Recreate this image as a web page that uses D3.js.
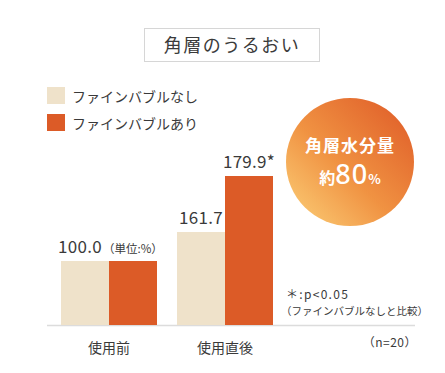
<!DOCTYPE html>
<html>
<head>
<meta charset="utf-8">
<script src="https://cdn.jsdelivr.net/npm/d3@7"></script>
<style>
  body { margin: 0; background: #fff; }
  text { font-family: "Noto Sans CJK JP", "Noto Sans", sans-serif; fill: #3a3a3a; }
</style>
</head>
<body>
<svg id="svg" width="445" height="373"></svg>
<script>
const categories = ["使用前", "使用直後"];
const seriesNames = ["ファインバブルなし", "ファインバブルあり"];
const without = [100.0, 161.7];
const withBubble = [100.0, 179.9];
const valueLabels = ["100.0", "161.7", "179.9*"];
const colors = ["#EFE2CA", "#DC5B27"];

const svg = d3.select("#svg");
const baseY = 325;

// the picture's bars are not to scale, so the scale follows the drawn heights
const y = d3.scaleLinear().domain([0, 100, 161.7, 179.9]).range([baseY, 261, 232, 176]);
const x = d3.scaleBand().domain(categories).range([61, 273]).paddingInner(20 / 116);
const xs = d3.scaleBand().domain(seriesNames).range([0, x.bandwidth()]);

// title box
svg.append("rect")
  .attr("x", 144.5).attr("y", 28.5).attr("width", 175).attr("height", 33)
  .attr("fill", "none").attr("stroke", "#d6d6d6");
svg.append("text")
  .attr("x", 232).attr("y", 51.5)
  .attr("text-anchor", "middle")
  .style("font-size", "18px").style("letter-spacing", "1.5px")
  .text("角層のうるおい");

// legend
const legend = svg.selectAll("g.legend").data(seriesNames).enter()
  .append("g").attr("class", "legend")
  .attr("transform", (d, i) => `translate(47,${87 + i * 27})`);
legend.append("rect").attr("width", 18).attr("height", 17).attr("fill", (d, i) => colors[i]);
legend.append("text").attr("x", 25).attr("y", 15)
  .style("font-size", "14px").text((d) => d);

// baseline
svg.append("line")
  .attr("x1", 47).attr("x2", 415).attr("y1", baseY + 0.5).attr("y2", baseY + 0.5)
  .attr("stroke", "#dcdcdc").attr("stroke-width", 1.5);

// bars
const groups = svg.selectAll("g.grp").data(categories).enter()
  .append("g").attr("class", "grp")
  .attr("transform", (d) => `translate(${x(d)},0)`);
groups.selectAll("rect")
  .data((d, i) => [without[i], withBubble[i]])
  .enter().append("rect")
  .attr("x", (d, j) => xs(seriesNames[j]))
  .attr("width", xs.bandwidth())
  .attr("y", (d) => y(d))
  .attr("height", (d) => baseY - y(d))
  .attr("fill", (d, j) => colors[j]);

// value labels
const labelPos = [
  { c: 0, s: 0, v: without[0] },
  { c: 1, s: 0, v: without[1] },
  { c: 1, s: 1, v: withBubble[1] }
];
svg.selectAll("text.val").data(labelPos).enter()
  .append("text").attr("class", "val")
  .attr("x", (d, i) => x(categories[d.c]) + xs(seriesNames[d.s]) + xs.bandwidth() / 2 - (i === 0 ? 5 : 0))
  .attr("y", (d) => y(d.v) - 8)
  .attr("text-anchor", "middle")
  .style("font-size", "17px").style("letter-spacing", "0.3px")
  .text((d, i) => valueLabels[i]);
svg.append("text")
  .attr("x", 103).attr("y", 252.5)
  .style("font-size", "11.5px")
  .text("（単位:%）");

// category labels
svg.selectAll("text.cat").data(categories).enter()
  .append("text").attr("class", "cat")
  .attr("x", (d) => x(d) + x.bandwidth() / 2)
  .attr("y", 353)
  .attr("text-anchor", "middle")
  .style("font-size", "14px")
  .text((d) => d);

// notes
svg.append("text").attr("x", 286).attr("y", 299)
  .style("font-size", "12px").style("letter-spacing", "1.3px").text("＊:p<0.05");
svg.append("text").attr("x", 281).attr("y", 315)
  .style("font-size", "10.5px").text("（ファインバブルなしと比較）");
svg.append("text").attr("x", 417).attr("y", 346.5)
  .attr("text-anchor", "end")
  .style("font-size", "12px").style("letter-spacing", "0.5px").text("（n=20）");

// badge
const defs = svg.append("defs");
const grad = defs.append("linearGradient").attr("id", "badge")
  .attr("x1", "0").attr("y1", "1").attr("x2", "1").attr("y2", "0");
grad.append("stop").attr("offset", "0").attr("stop-color", "#FCD27A");
grad.append("stop").attr("offset", "0.45").attr("stop-color", "#F09242");
grad.append("stop").attr("offset", "1").attr("stop-color", "#DE5826");

const badge = svg.append("g").attr("transform", "translate(350,162)");
badge.append("circle").attr("r", 64).attr("fill", "url(#badge)");
badge.append("text")
  .attr("y", -10).attr("text-anchor", "middle")
  .style("fill", "#fff").style("font-size", "17px").style("font-weight", "700")
  .style("letter-spacing", "1px")
  .text("角層水分量");
const big = badge.append("text")
  .attr("y", 22).attr("text-anchor", "middle")
  .style("fill", "#fff");
big.append("tspan").style("fill", "#fff").style("font-size", "16px").style("font-weight", "700").text("約");
big.append("tspan").style("fill", "#fff").style("font-size", "27px").style("letter-spacing", "1px")
  .style("font-family", "'Noto Sans', sans-serif").style("font-weight", "500").text("80");
big.append("tspan").style("fill", "#fff").style("font-size", "13px").style("font-weight", "700").text("%");
</script>
</body>
</html>
